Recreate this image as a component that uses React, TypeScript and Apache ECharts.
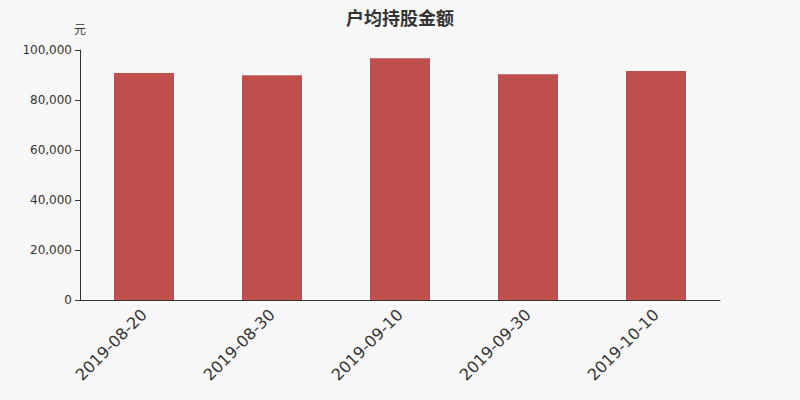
import React, { useEffect, useRef } from 'react';
import * as echarts from 'echarts';

const categories = ['2019-08-20', '2019-08-30', '2019-09-10', '2019-09-30', '2019-10-10'];
const values = [90800, 89900, 96700, 90300, 91600];

const App: React.FC = () => {
  const chartRef = useRef<HTMLDivElement>(null);

  useEffect(() => {
    if (!chartRef.current) return;
    const chart = echarts.init(chartRef.current, undefined, { renderer: 'svg' });
    chart.setOption({
      animation: false,
      backgroundColor: '#f8f8f8',
      title: {
        text: '户均持股金额',
        left: 'center',
        top: 3,
        textStyle: { fontSize: 18, fontWeight: 'bold', color: '#333', fontFamily: 'Noto Sans CJK SC' },
      },
      grid: { left: 80, right: 80, top: 50, bottom: 100 },
      xAxis: {
        type: 'category',
        data: categories,
        axisLine: { lineStyle: { color: '#333' } },
        axisTick: { lineStyle: { color: '#333' } },
        axisLabel: { rotate: 45, fontSize: 16, color: '#333', margin: 12, fontFamily: 'DejaVu Sans' },
      },
      yAxis: {
        type: 'value',
        name: '元',
        min: 0,
        max: 100000,
        interval: 20000,
        nameGap: 16,
        nameTextStyle: { color: '#333', fontSize: 12, align: 'center', fontFamily: 'Noto Sans CJK SC' },
        axisLine: { show: true, lineStyle: { color: '#333' } },
        axisTick: { show: true, lineStyle: { color: '#333' } },
        splitLine: { show: false },
        axisLabel: { fontSize: 12, color: '#333', fontFamily: 'DejaVu Sans' },
      },
      series: [
        {
          type: 'bar',
          data: values,
          barWidth: 60,
          itemStyle: { color: '#c0504e' },
        },
      ],
    });
    return () => chart.dispose();
  }, []);

  return (
    <div
      ref={chartRef}
      style={{ position: 'fixed', left: 0, top: 0, width: 800, height: 400 }}
    />
  );
};

export default App;
